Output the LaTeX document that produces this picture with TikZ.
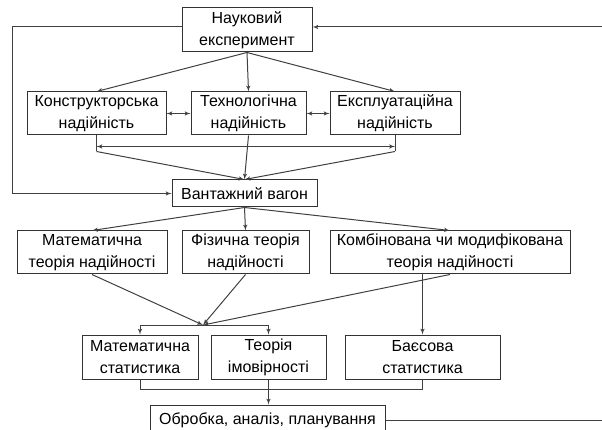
\documentclass[tikz,border=0pt]{standalone}
\usepackage{fontspec}
\setmainfont{Liberation Sans}
\usetikzlibrary{positioning,arrows,calc}
\tikzstyle{block} = [draw=black!80, rectangle, fill=white, line width=1pt, align=center, inner sep=0pt, font=\fontsize{16}{22}\selectfont]
\tikzstyle{line} = [draw=black!75, line width=1pt, -latex']
\tikzstyle{dline} = [draw=black!75, line width=1pt, latex'-latex']
\tikzstyle{plain} = [draw=black!75, line width=1pt]

\begin{document}
\begin{tikzpicture}[x=1pt, y=-1pt]
    \useasboundingbox (0,0) rectangle (602,430);

    % Place nodes
    \node [block, minimum width=130, minimum height=44] (experiment) at (247,30) {Науковий\\експеримент};
    \node [block, minimum width=139, minimum height=43] (design) at (96.5,113.5) {Конструкторська\\надійність};
    \node [block, minimum width=115, minimum height=43] (techno) at (248.5,113.5) {Технологічна\\надійність};
    \node [block, minimum width=130, minimum height=43] (operation) at (395,113.5) {Експлуатаційна\\надійність};
    \node [block, minimum width=145, minimum height=27] (wagon) at (244.5,193.5) {Вантажний вагон};
    \node [block, minimum width=150, minimum height=43] (math-theory) at (92,252.5) {Математична\\теорія надійності};
    \node [block, minimum width=127, minimum height=43] (phys-theory) at (245.5,252.5) {Фізична теорія\\надійності};
    \node [block, minimum width=240, minimum height=43] (comb-theory) at (450,252.5) {Комбінована чи модифікована\\теорія надійності};
    \node [block, minimum width=116, minimum height=44] (math-stat) at (140,357) {Математична\\статистика};
    \node [block, minimum width=115, minimum height=44] (prob) at (268.5,357) {Теорія\\імовірності};
    \node [block, minimum width=155, minimum height=44] (bayes) at (422.5,357) {Баєсова\\статистика};
    \node [block, minimum width=235, minimum height=30] (processing) at (267.5,420) {Обробка, аналіз, планування};

    % Helper coordinates
    \coordinate (design-low) at ($(design.south)+(0,16)$);
    \coordinate (operation-low) at ($(operation.south)+(0,16)$);
    \coordinate (theory-join) at (203,325);

    % Draw edges
    \path [line] (experiment.south) -- (design.north);
    \path [line] (experiment.south) -- (techno.north);
    \path [line] (experiment.south) -- (operation.north);
    \path [dline] (design.east) -- (techno.west);
    \path [dline] (techno.east) -- (operation.west);
    \path [plain] (design.south) -- (design-low);
    \path [plain] (operation.south) -- (operation-low);
    \path [dline] ($(design-low)+(0,-5)$) -- ($(operation-low)+(0,-5)$);
    \path [line] (design-low) -- (wagon.north);
    \path [line] (techno.south) -- (wagon.north);
    \path [line] (operation-low) -- (wagon.north);
    \path [line] ([yshift=3pt]experiment.west) -- ++(-169,0) |- (wagon.west);
    \path [line] (wagon.south) -- (math-theory.north);
    \path [line] (wagon.south) -- (phys-theory.north);
    \path [line] (wagon.south) -- (comb-theory.north);
    \path [line] (math-theory.south) -- (theory-join);
    \path [line] (phys-theory.south) -- (theory-join);
    \path [line] (comb-theory.south) -- (theory-join);
    \path [line] (theory-join) -| (math-stat.north);
    \path [line] (theory-join) -| (prob.north);
    \path [line] (bayes.north |- comb-theory.south) -- (bayes.north);
    \path [plain] (math-stat.south) -- ++(0,10) -| (bayes.south);
    \path [line] (prob.south) -- (prob.south |- processing.north);
    \path [line] (processing.east) -- (606,420) |- ([yshift=3pt]experiment.east);
\end{tikzpicture}
\end{document}
